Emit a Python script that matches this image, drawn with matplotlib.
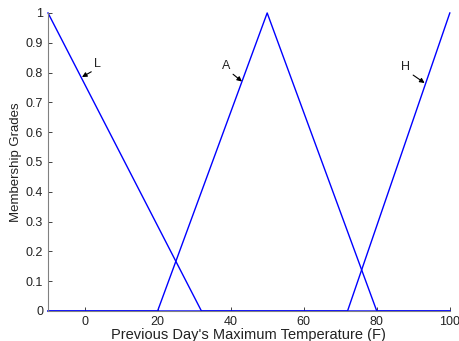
import numpy as np
import matplotlib.pyplot as plt

plt.rcParams['font.family'] = ['Liberation Sans', 'DejaVu Sans']

# membership function breakpoints
x_low = [-10, 32, 100]
y_low = [1, 0, 0]
x_avg = [-10, 20, 50, 80, 100]
y_avg = [0, 0, 1, 0, 0]
x_high = [-10, 72, 100]
y_high = [0, 0, 1]

labels = ["L", "A", "H"]
arrow_tips = [(-0.7, 0.785), (43.1, 0.77), (93.1, 0.765)]
text_pos = [(2.6, 0.818), (39.9, 0.812), (89.2, 0.808)]
text_ha = ["left", "right", "right"]
arrow_from = [(0, 0), (1, 0), (1, 0)]

fig = plt.figure(figsize=(4.59, 3.41), dpi=100)
ax = fig.add_axes([0.1046, 0.088, 0.8754, 0.874])

for xs, ys in [(x_low, y_low), (x_avg, y_avg), (x_high, y_high)]:
    ax.plot(xs, ys, color="#0000ff", linewidth=1.0, clip_on=False)

for lab, tip, tp, ha, rp in zip(labels, arrow_tips, text_pos, text_ha, arrow_from):
    ax.annotate(lab, xy=tip, xytext=tp, fontsize=9, ha=ha, va="baseline",
                color="#222222",
                arrowprops=dict(arrowstyle="-|>", color="black", lw=0.8,
                                mutation_scale=7, shrinkA=0, shrinkB=0,
                                relpos=rp))

ax.set_xlim(-10, 100)
ax.set_ylim(0, 1)
ax.set_xticks([0, 20, 40, 60, 80, 100])
ax.set_yticks(np.round(np.arange(0, 1.01, 0.1), 1))
ax.set_yticklabels(["0", "0.1", "0.2", "0.3", "0.4", "0.5", "0.6", "0.7", "0.8", "0.9", "1"])
ax.tick_params(direction="in", length=3, labelsize=9, width=0.6, colors="#222222")
ax.spines["top"].set_visible(False)
ax.spines["right"].set_visible(False)
ax.spines["left"].set_color("#808080")
ax.spines["bottom"].set_color("#808080")
ax.set_xlabel("Previous Day's Maximum Temperature (F)", fontsize=10.5, labelpad=0, color="#222222")
ax.set_ylabel("Membership Grades", fontsize=9.5, labelpad=3, color="#222222")

fig.savefig("out.png", dpi=100)
